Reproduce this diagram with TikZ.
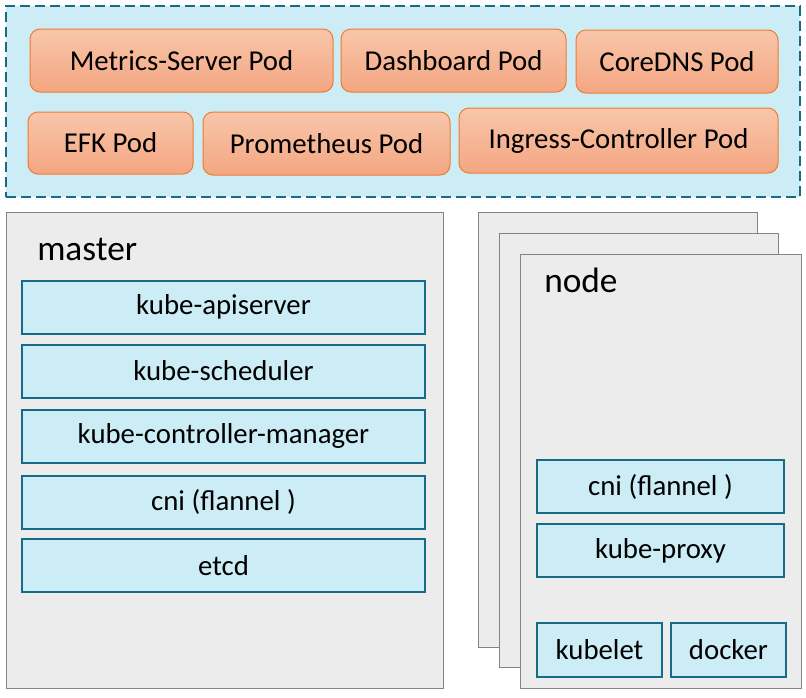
\documentclass[tikz,border=0pt]{standalone}
\usepackage{fontspec}
\setmainfont{Carlito}
\usepackage{tikz}
\usetikzlibrary{positioning}
\usepackage{xcolor}
\definecolor{panelblue}{RGB}{204,236,246}
\definecolor{tealline}{RGB}{23,107,135}
\definecolor{podtop}{RGB}{248,198,170}
\definecolor{podbot}{RGB}{244,166,130}
\definecolor{podline}{RGB}{237,125,49}
\definecolor{hostfill}{RGB}{236,236,236}
\definecolor{hostline}{RGB}{132,132,132}

\begin{document}
\begin{tikzpicture}[x=0.75pt, y=-0.75pt,
  wh/.style 2 args={minimum width=#1*0.75pt, minimum height=#2*0.75pt, inner sep=0pt},
  pod/.style={draw=podline, line width=0.75pt, rounded corners=7.5pt, top color=podtop, bottom color=podbot, font=\fontsize{21.6}{24}\selectfont},
  comp/.style={draw=tealline, line width=1.5pt, fill=panelblue, font=\fontsize{21.6}{24}\selectfont},
  host/.style={draw=hostline, line width=0.75pt, fill=hostfill},
  hostlabel/.style={anchor=base west, inner sep=0pt, font=\fontsize{26.5}{28}\selectfont}]
  \useasboundingbox (0,0) rectangle (806,697);

  % addon pods
  \node[wh={794}{191}, fill=panelblue, draw=tealline, line width=1.6pt, dash pattern=on 7.5pt off 3.75pt] (addons) at (403,101.5) {};
  \node[pod, wh={303}{63}] (metrics) at (181.5,60.5) {Metrics-Server Pod};
  \node[pod, wh={225}{63}] (dashboard) at (453.5,60.5) {Dashboard Pod};
  \node[pod, wh={202}{63}] (coredns) at (677,61.5) {CoreDNS Pod};
  \node[pod, wh={165}{62}] (efk) at (110.5,143) {EFK Pod};
  \node[pod, wh={247}{63}] (prometheus) at (326.5,143.5) {Prometheus Pod};
  \node[pod, wh={319}{65}] (ingress) at (618.5,140.5) {Ingress-Controller Pod};

  % master
  \node[host, wh={437}{476}] (master) at (224.5,450) {};
  \node[hostlabel] (masterlabel) at (37,260) {master};
  \foreach \name/\txt/\y in {apiserver/kube-apiserver/307, scheduler/kube-scheduler/371,
      ctrlmgr/kube-controller-manager/436, mcni/{cni (flannel )}/502, etcd/etcd/565.5}
    \node[comp, wh={403}{53}] (\name) at (223.5,\y) {\txt};

  % nodes (stacked)
  \node[host, wh={279}{435}] (nodeback) at (617.5,429.5) {};
  \node[host, wh={279}{434}] (nodemid) at (638.5,450) {};
  \node[host, wh={281}{434}] (node) at (660.5,471) {};
  \node[hostlabel] (nodelabel) at (544,292) {node};
  \node[comp, wh={247}{53}] (ncni) at (660.5,486.5) {cni (flannel )};
  \node[comp, wh={247}{53}] (proxy) at (660.5,550.5) {kube-proxy};
  \node[comp, wh={125}{54}] (kubelet) at (599.5,650) {kubelet};
  \node[comp, wh={115}{54}] (docker) at (728.5,650) {docker};
\end{tikzpicture}
\end{document}
